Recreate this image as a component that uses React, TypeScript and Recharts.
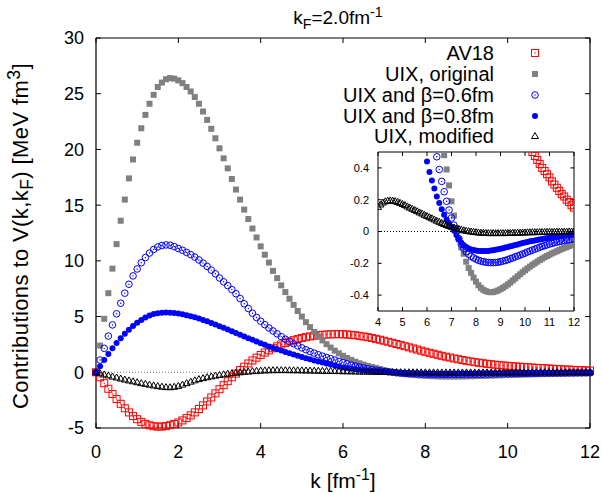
import React from 'react';
import { ScatterChart, Scatter, XAxis, YAxis, ReferenceLine } from 'recharts';

// k grid [fm^-1]
const K_GRID = [
  0, 0.1, 0.2, 0.3, 0.4, 0.5, 0.6, 0.7, 0.8, 0.9, 1.0,
  1.1, 1.2, 1.3, 1.4, 1.5, 1.6, 1.7, 1.8, 1.9, 2.0,
  2.1, 2.2, 2.3, 2.4, 2.5, 2.6, 2.7, 2.8, 2.9, 3.0,
  3.1, 3.2, 3.3, 3.4, 3.5, 3.6, 3.7, 3.8, 3.9, 4.0,
  4.1, 4.2, 4.3, 4.4, 4.5, 4.6, 4.7, 4.8, 4.9, 5.0,
  5.1, 5.2, 5.3, 5.4, 5.5, 5.6, 5.7, 5.8, 5.9, 6.0,
  6.1, 6.2, 6.3, 6.4, 6.5, 6.6, 6.7, 6.8, 6.9, 7.0,
  7.1, 7.2, 7.3, 7.4, 7.5, 7.6, 7.7, 7.8, 7.9, 8.0,
  8.1, 8.2, 8.3, 8.4, 8.5, 8.6, 8.7, 8.8, 8.9, 9.0,
  9.1, 9.2, 9.3, 9.4, 9.5, 9.6, 9.7, 9.8, 9.9, 10.0,
  10.1, 10.2, 10.3, 10.4, 10.5, 10.6, 10.7, 10.8, 10.9, 11.0,
  11.1, 11.2, 11.3, 11.4, 11.5, 11.6, 11.7, 11.8, 11.9, 12.0,
];

const AV18 = [
  0, -0.45, -0.98, -1.48, -1.95, -2.4, -2.83, -3.23, -3.6, -3.93, -4.21,
  -4.45, -4.63, -4.76, -4.84, -4.87, -4.87, -4.83, -4.75, -4.64, -4.5,
  -4.32, -4.11, -3.87, -3.6, -3.3, -2.97, -2.62, -2.26, -1.89, -1.52,
  -1.16, -0.8, -0.45, -0.12, 0.2, 0.5, 0.79, 1.06, 1.31, 1.55,
  1.77, 1.97, 2.16, 2.33, 2.49, 2.63, 2.76, 2.88, 2.98, 3.07,
  3.15, 3.22, 3.28, 3.32, 3.36, 3.39, 3.41, 3.42, 3.42, 3.41,
  3.39, 3.36, 3.32, 3.27, 3.21, 3.15, 3.08, 3.0, 2.92, 2.83,
  2.74, 2.64, 2.54, 2.44, 2.34, 2.24, 2.14, 2.04, 1.94, 1.84,
  1.75, 1.66, 1.57, 1.48, 1.4, 1.32, 1.24, 1.17, 1.1, 1.03,
  0.97, 0.91, 0.86, 0.81, 0.76, 0.72, 0.68, 0.64, 0.61, 0.58,
  0.55, 0.525, 0.5, 0.475, 0.45, 0.425, 0.4, 0.38, 0.36, 0.34,
  0.315, 0.295, 0.275, 0.255, 0.235, 0.22, 0.2, 0.185, 0.165, 0.15,
];

const UIX_ORIGINAL = [
  0, 2.4, 4.8, 7.1, 9.3, 11.5, 13.6, 15.5, 17.4, 19.1, 20.6,
  21.9, 23.1, 24.1, 24.9, 25.6, 26.0, 26.3, 26.4, 26.35, 26.2,
  25.95, 25.6, 25.2, 24.7, 24.1, 23.4, 22.65, 21.85, 21.0, 20.1,
  19.2, 18.3, 17.35, 16.4, 15.5, 14.6, 13.75, 12.9, 12.1, 11.3,
  10.55, 9.85, 9.1, 8.45, 7.8, 7.2, 6.6, 6.05, 5.5, 5.0,
  4.5, 4.05, 3.62, 3.22, 2.86, 2.52, 2.22, 1.94, 1.7, 1.48,
  1.28, 1.11, 0.95, 0.81, 0.69, 0.58, 0.48, 0.39, 0.29, 0.19,
  0.1, 0.02, -0.05, -0.1, -0.14, -0.19, -0.23, -0.26, -0.29, -0.315,
  -0.338, -0.355, -0.367, -0.375, -0.38, -0.382, -0.381, -0.377, -0.371, -0.363,
  -0.354, -0.344, -0.333, -0.321, -0.308, -0.295, -0.282, -0.269, -0.256, -0.244,
  -0.232, -0.221, -0.21, -0.2, -0.19, -0.18, -0.171, -0.162, -0.154, -0.146,
  -0.138, -0.131, -0.124, -0.117, -0.11, -0.104, -0.098, -0.092, -0.086, -0.08,
];

const UIX_BETA06 = [
  0, 1.1, 2.15, 3.25, 4.25, 5.25, 6.2, 7.1, 7.9, 8.65, 9.27,
  9.83, 10.3, 10.7, 11.02, 11.25, 11.38, 11.43, 11.4, 11.28, 11.11,
  10.95, 10.76, 10.56, 10.34, 10.08, 9.8, 9.5, 9.17, 8.84, 8.46,
  8.12, 7.78, 7.43, 7.05, 6.62, 6.15, 5.72, 5.3, 4.92, 4.58,
  4.27, 3.98, 3.71, 3.45, 3.2, 2.97, 2.76, 2.56, 2.37, 2.19,
  2.02, 1.86, 1.72, 1.58, 1.45, 1.33, 1.22, 1.1, 0.98, 0.87,
  0.76, 0.65, 0.56, 0.47, 0.39, 0.315, 0.25, 0.19, 0.135, 0.085,
  0.04, 0.0, -0.045, -0.08, -0.105, -0.127, -0.143, -0.156, -0.166, -0.174,
  -0.181, -0.186, -0.19, -0.193, -0.195, -0.196, -0.196, -0.195, -0.193, -0.19,
  -0.186, -0.182, -0.177, -0.171, -0.166, -0.16, -0.154, -0.148, -0.142, -0.136,
  -0.129, -0.123, -0.117, -0.111, -0.105, -0.099, -0.094, -0.089, -0.084, -0.079,
  -0.075, -0.071, -0.067, -0.063, -0.06, -0.057, -0.054, -0.051, -0.048, -0.045,
];

const UIX_BETA08 = [
  0, 0.55, 1.1, 1.65, 2.15, 2.62, 3.05, 3.45, 3.82, 4.15, 4.45,
  4.7, 4.92, 5.1, 5.22, 5.3, 5.35, 5.36, 5.35, 5.32, 5.27,
  5.2, 5.12, 5.03, 4.93, 4.82, 4.7, 4.57, 4.43, 4.29, 4.14,
  3.99, 3.84, 3.68, 3.53, 3.37, 3.21, 3.06, 2.91, 2.76, 2.6,
  2.46, 2.32, 2.19, 2.07, 1.95, 1.83, 1.71, 1.59, 1.48, 1.37,
  1.26, 1.16, 1.06, 0.96, 0.87, 0.78, 0.69, 0.6, 0.52, 0.44,
  0.375, 0.32, 0.27, 0.22, 0.18, 0.14, 0.106, 0.075, 0.048, 0.027,
  0.006, -0.022, -0.048, -0.07, -0.086, -0.098, -0.107, -0.113, -0.117, -0.12,
  -0.122, -0.123, -0.123, -0.123, -0.122, -0.12, -0.118, -0.115, -0.112, -0.109,
  -0.105, -0.101, -0.097, -0.093, -0.089, -0.085, -0.081, -0.077, -0.073, -0.069,
  -0.066, -0.062, -0.059, -0.056, -0.053, -0.05, -0.047, -0.044, -0.041, -0.039,
  -0.037, -0.035, -0.033, -0.031, -0.029, -0.027, -0.025, -0.023, -0.022, -0.02,
];

const UIX_MODIFIED = [
  0, -0.09, -0.19, -0.28, -0.38, -0.47, -0.56, -0.65, -0.73, -0.81, -0.89,
  -0.97, -1.04, -1.11, -1.18, -1.24, -1.29, -1.33, -1.34, -1.3, -1.22,
  -1.1, -0.97, -0.84, -0.72, -0.61, -0.52, -0.44, -0.37, -0.3, -0.24,
  -0.18, -0.13, -0.08, -0.04, 0.0, 0.04, 0.07, 0.1, 0.13, 0.155,
  0.17, 0.182, 0.19, 0.194, 0.195, 0.194, 0.191, 0.186, 0.18, 0.173,
  0.166, 0.158, 0.15, 0.143, 0.135, 0.128, 0.12, 0.113, 0.105, 0.098,
  0.09, 0.083, 0.076, 0.068, 0.061, 0.054, 0.047, 0.041, 0.035, 0.03,
  0.025, 0.02, 0.016, 0.012, 0.008, 0.005, 0.002, 0.0, -0.002, -0.004,
  -0.006, -0.007, -0.008, -0.009, -0.01, -0.01, -0.01, -0.01, -0.01, -0.01,
  -0.01, -0.01, -0.009, -0.009, -0.008, -0.008, -0.007, -0.007, -0.006, -0.006,
  -0.005, -0.005, -0.004, -0.004, -0.004, -0.003, -0.003, -0.003, -0.002, -0.002,
  -0.002, -0.002, -0.001, -0.001, -0.001, -0.001, -0.001, 0, 0, 0,
];

const MAIN_X_TICKS = [0, 2, 4, 6, 8, 10, 12];
const MAIN_Y_TICKS = [-5, 0, 5, 10, 15, 20, 25, 30];
const INSET_X_TICKS = [4, 5, 6, 7, 8, 9, 10, 11, 12];
const INSET_Y_TICKS = [-0.4, -0.2, 0, 0.2, 0.4];

const FONT = '"Liberation Sans", Arial, Helvetica, sans-serif';

type Pt = { k: number; v: number };
const toPoints = (vals: number[]): Pt[] => K_GRID.map((k, i) => ({ k, v: vals[i] }));

// gnuplot-like point symbols
const RedBox = ({ cx, cy }: any) =>
  cx == null ? null : (
    <g>
      <rect x={cx - 3.5} y={cy - 3.5} width={7} height={7} fill="none" stroke="#ff0000" strokeWidth={1} />
      <rect x={cx - 0.6} y={cy - 0.6} width={1.2} height={1.2} fill="#ff0000" />
    </g>
  );

const GreyBox = ({ cx, cy }: any) =>
  cx == null ? null : <rect x={cx - 3} y={cy - 3} width={6} height={6} fill="#808080" />;

const BlueRing = ({ cx, cy }: any) =>
  cx == null ? null : (
    <g>
      <circle cx={cx} cy={cy} r={3.3} fill="none" stroke="#0000ff" strokeWidth={1} />
      <circle cx={cx} cy={cy} r={0.7} fill="#0000ff" />
    </g>
  );

const BlueDot = ({ cx, cy }: any) =>
  cx == null ? null : <circle cx={cx} cy={cy} r={3} fill="#0000ff" />;

const BlackTriangle = ({ cx, cy }: any) =>
  cx == null ? null : (
    <path
      d={`M${cx},${cy - 3.5}L${cx + 3.5},${cy + 2.5}L${cx - 3.5},${cy + 2.5}Z`}
      fill="none"
      stroke="#000"
      strokeWidth={1}
    />
  );

const SERIES = [
  { name: 'AV18', values: AV18, shape: RedBox },
  { name: 'UIX, original', values: UIX_ORIGINAL, shape: GreyBox },
  { name: 'UIX and β=0.6fm', values: UIX_BETA06, shape: BlueRing },
  { name: 'UIX and β=0.8fm', values: UIX_BETA08, shape: BlueDot },
  { name: 'UIX, modified', values: UIX_MODIFIED, shape: BlackTriangle },
];

const tickStyle = { fontSize: 18, fill: '#000', fontFamily: FONT };
const insetTickStyle = { fontSize: 11, fill: '#000', fontFamily: FONT };

const LEGEND_ROWS = [53, 74, 95, 116, 136];

export default function App() {
  return (
    <div
      style={{
        position: 'absolute',
        left: 0,
        top: 0,
        width: 602,
        height: 493,
        background: '#fff',
        fontFamily: FONT,
        color: '#000',
      }}
    >
      <ScatterChart width={602} height={493} margin={{ top: 38, right: 12, bottom: 0, left: 0 }}>
        <XAxis
          type="number"
          dataKey="k"
          domain={[0, 12]}
          ticks={MAIN_X_TICKS}
          interval={0}
          height={65}
          tickSize={0}
          tickLine={false}
          tickMargin={17}
          tick={tickStyle}
          axisLine={{ stroke: '#000', strokeWidth: 1.2 }}
        />
        <YAxis
          type="number"
          dataKey="v"
          domain={[-5, 30]}
          ticks={MAIN_Y_TICKS}
          interval={0}
          width={96}
          tickSize={0}
          tickLine={false}
          tickMargin={12}
          tick={tickStyle}
          axisLine={{ stroke: '#000', strokeWidth: 1.2 }}
        />
        <ReferenceLine y={30} stroke="#000" strokeWidth={1.2} />
        <ReferenceLine x={12} stroke="#000" strokeWidth={1.2} />
        <ReferenceLine y={0} stroke="#777" strokeDasharray="1 2" />
        {MAIN_X_TICKS.map((t) => (
          <ReferenceLine key={`xb${t}`} segment={[{ x: t, y: -5 }, { x: t, y: -4.55 }]} stroke="#000" />
        ))}
        {MAIN_X_TICKS.map((t) => (
          <ReferenceLine key={`xt${t}`} segment={[{ x: t, y: 30 }, { x: t, y: 29.55 }]} stroke="#000" />
        ))}
        {MAIN_Y_TICKS.map((t) => (
          <ReferenceLine key={`yl${t}`} segment={[{ x: 0, y: t }, { x: 0.12, y: t }]} stroke="#000" />
        ))}
        {MAIN_Y_TICKS.map((t) => (
          <ReferenceLine key={`yr${t}`} segment={[{ x: 12, y: t }, { x: 11.88, y: t }]} stroke="#000" />
        ))}
        {SERIES.map((s) => (
          <Scatter
            key={s.name}
            name={s.name}
            data={toPoints(s.values)}
            shape={s.shape}
            isAnimationActive={false}
          />
        ))}
      </ScatterChart>

      {/* inset: zoom on 4 < k < 12 */}
      <div style={{ position: 'absolute', left: 350, top: 146 }}>
        <ScatterChart width={232} height={190} margin={{ top: 6, right: 8, bottom: 0, left: 0 }}>
          <XAxis
            type="number"
            dataKey="k"
            domain={[4, 12]}
            ticks={INSET_X_TICKS}
            interval={0}
            allowDataOverflow
            height={25}
            tickSize={0}
            tickLine={false}
            tickMargin={7}
            tick={insetTickStyle}
            axisLine={{ stroke: '#000' }}
          />
          <YAxis
            type="number"
            dataKey="v"
            domain={[-0.5, 0.5]}
            ticks={INSET_Y_TICKS}
            interval={0}
            allowDataOverflow
            width={28}
            tickSize={0}
            tickLine={false}
            tickMargin={9}
            tick={insetTickStyle}
            axisLine={{ stroke: '#000' }}
          />
          <ReferenceLine y={0.5} stroke="#000" />
          <ReferenceLine x={12} stroke="#000" />
          <ReferenceLine y={0} stroke="#000" strokeDasharray="1 2" />
          {INSET_X_TICKS.map((t) => (
            <ReferenceLine key={`ixb${t}`} segment={[{ x: t, y: -0.5 }, { x: t, y: -0.475 }]} stroke="#000" />
          ))}
          {INSET_X_TICKS.map((t) => (
            <ReferenceLine key={`ixt${t}`} segment={[{ x: t, y: 0.5 }, { x: t, y: 0.475 }]} stroke="#000" />
          ))}
          {INSET_Y_TICKS.map((t) => (
            <ReferenceLine key={`iyl${t}`} segment={[{ x: 4, y: t }, { x: 4.15, y: t }]} stroke="#000" />
          ))}
          {INSET_Y_TICKS.map((t) => (
            <ReferenceLine key={`iyr${t}`} segment={[{ x: 12, y: t }, { x: 11.85, y: t }]} stroke="#000" />
          ))}
          {SERIES.map((s) => (
            <Scatter
              key={s.name}
              name={s.name}
              data={toPoints(s.values).filter((p) => p.k >= 4 && p.v <= 0.505 && p.v >= -0.505)}
              shape={s.shape}
              isAnimationActive={false}
            />
          ))}
        </ScatterChart>
      </div>

      {/* legend */}
      {SERIES.map((s, i) => {
        const Shape = s.shape;
        return (
          <React.Fragment key={s.name}>
            <div
              style={{
                position: 'absolute',
                right: 602 - 494,
                top: LEGEND_ROWS[i] - 12,
                fontSize: 20,
                lineHeight: '24px',
                whiteSpace: 'nowrap',
              }}
            >
              {s.name}
            </div>
            <svg style={{ position: 'absolute', left: 527, top: LEGEND_ROWS[i] - 8 }} width={16} height={16}>
              <Shape cx={8} cy={8} />
            </svg>
          </React.Fragment>
        );
      })}

      {/* title and axis labels */}
      <div
        style={{
          position: 'absolute',
          left: 338,
          top: 18,
          transform: 'translate(-50%, -50%)',
          fontSize: 19,
          whiteSpace: 'nowrap',
        }}
      >
        k<sub style={{ fontSize: '0.75em' }}>F</sub>=2.0fm<sup style={{ fontSize: '0.75em' }}>-1</sup>
      </div>
      <div
        style={{
          position: 'absolute',
          left: 343,
          top: 479,
          transform: 'translate(-50%, -50%)',
          fontSize: 21,
          whiteSpace: 'nowrap',
        }}
      >
        k [fm<sup style={{ fontSize: '0.75em' }}>-1</sup>]
      </div>
      <div
        style={{
          position: 'absolute',
          left: 21,
          top: 236,
          transform: 'translate(-50%, -50%) rotate(-90deg)',
          fontSize: 22,
          letterSpacing: 0.4,
          whiteSpace: 'nowrap',
        }}
      >
        Contributions to V(k,k<sub style={{ fontSize: '0.8em' }}>F</sub>) [MeV fm
        <sup style={{ fontSize: '0.8em' }}>3</sup>]
      </div>
    </div>
  );
}
